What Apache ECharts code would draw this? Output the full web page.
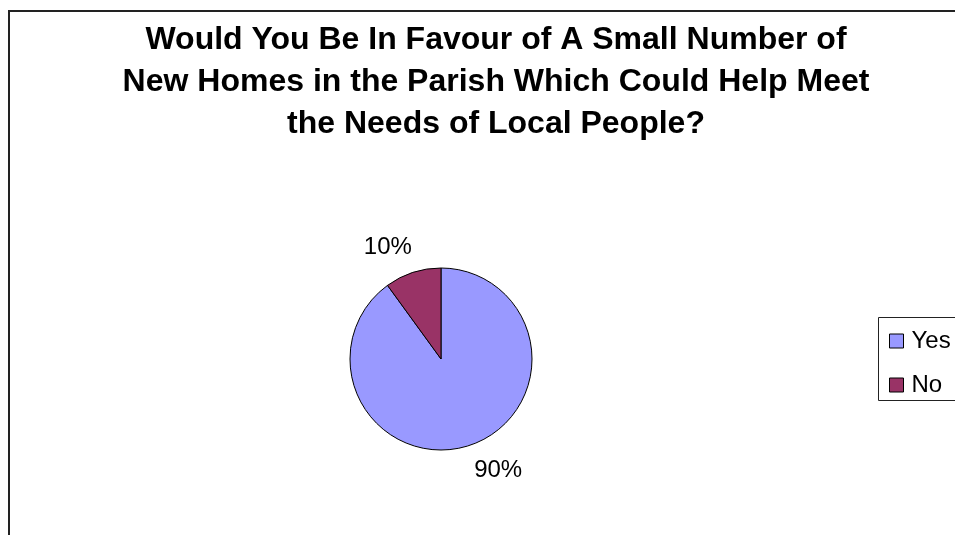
<!DOCTYPE html>
<html><head><meta charset="utf-8">
<script src="https://cdn.jsdelivr.net/npm/echarts@6/dist/echarts.min.js"></script>
<style>html,body{margin:0;padding:0;background:#fff}#c{width:955px;height:535px}</style>
</head><body><div id="c"></div>
<script>
const titleText = 'Would You Be In Favour of A Small Number of\nNew Homes in the Parish Which Could Help Meet\nthe Needs of Local People?';
const categories = ['Yes', 'No'];
const values = [90, 10];
const colors = ['#9999FF', '#993366'];
const labelOffsets = [[-8, 0], [12, 0]];

const chart = echarts.init(document.getElementById('c'));
chart.setOption({
  backgroundColor: '#ffffff',
  animation: false,
  title: {
    text: titleText,
    left: 496, top: 19, textAlign: 'center', padding: 0,
    textStyle: {fontFamily: 'Liberation Sans, Arial, sans-serif', fontWeight: 'bold', fontSize: 32, lineHeight: 42, color: '#000'}
  },
  graphic: [
    {type: 'rect', shape: {x: 9, y: 11, width: 1000, height: 600}, style: {fill: 'none', stroke: '#222', lineWidth: 2}, z: -10},
    {type: 'rect', shape: {x: 878.5, y: 317.5, width: 200, height: 83}, style: {fill: '#fff', stroke: '#222', lineWidth: 1}, z: -5}
  ],
  legend: {
    orient: 'vertical', left: 889, top: 329, padding: 0,
    data: categories,
    icon: 'rect', itemWidth: 14, itemHeight: 14, itemGap: 20,
    itemStyle: {borderColor: '#000', borderWidth: 1},
    textStyle: {fontFamily: 'Liberation Sans, Arial, sans-serif', fontSize: 24, color: '#000', padding: [0,0,0,3]}
  },
  series: [{
    type: 'pie',
    center: [441, 359], radius: 91,
    startAngle: 90, clockwise: true,
    data: categories.map((c, i) => ({name: c, value: values[i], itemStyle: {color: colors[i]}, label: {offset: labelOffsets[i]}})),
    itemStyle: {borderColor: '#000', borderWidth: 1},
    label: {show: true, position: 'outside', formatter: '{d}%', fontFamily: 'Liberation Sans, Arial, sans-serif', fontSize: 24, color: '#000'},
    labelLine: {show: false, length: 26, length2: 0},
    emphasis: {disabled: true}
  }]
});
</script></body></html>
